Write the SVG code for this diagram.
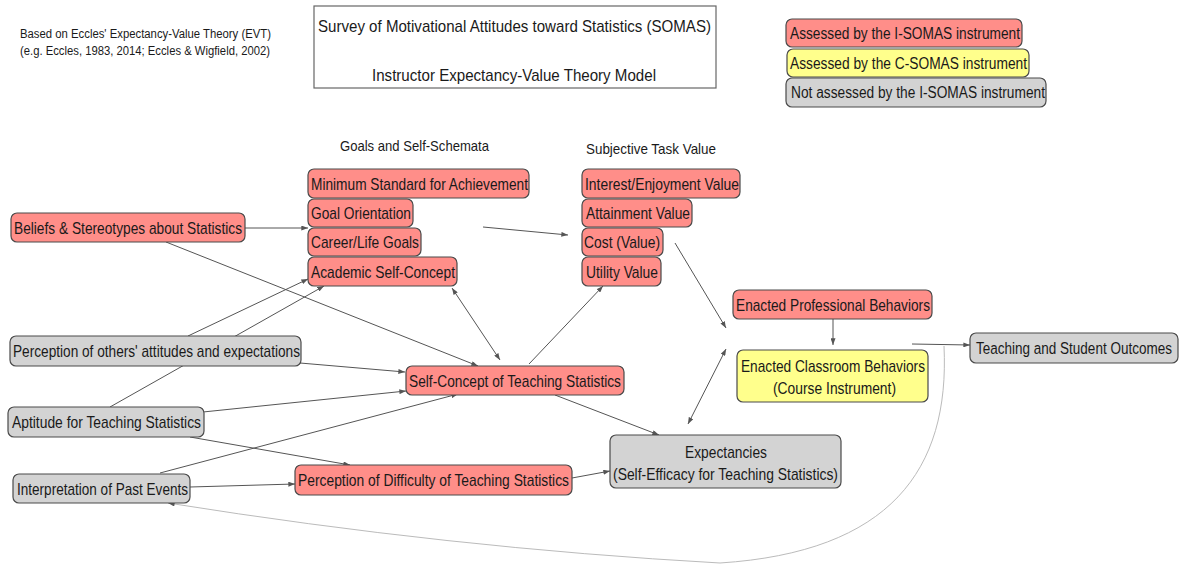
<svg xmlns="http://www.w3.org/2000/svg" width="1184" height="565" viewBox="0 0 1184 565">
<style>
  text { font-family: "Liberation Sans", Arial, sans-serif; fill: #1a1a1a; }
  .n { font-size: 17px; }
  .l { font-size: 16px; }
  .h { font-size: 15px; }
  .s { font-size: 12px; }
  .t { font-size: 17px; }
  .red rect { fill: #ff8e89; stroke: #4a4a4a; stroke-width: 1.2; }
  .yel rect { fill: #ffff8c; stroke: #4a4a4a; stroke-width: 1.2; }
  .gry rect { fill: #d3d3d3; stroke: #4a4a4a; stroke-width: 1.2; }
  .c line, .c path { stroke: #555; stroke-width: 1; fill: none; marker-end: url(#ah); }
  .c .bi { marker-start: url(#ah); }
  .c .faint { stroke: #bbb; }
</style>
<defs>
  <marker id="ah" viewBox="0 0 8 6" refX="8" refY="3" markerWidth="7" markerHeight="5" markerUnits="userSpaceOnUse" orient="auto-start-reverse">
    <path d="M0,0 L8,3 L0,6 z" fill="#555"/>
  </marker>
</defs>
<rect width="1184" height="565" fill="#fff"/>

<g id="source-note">
  <text class="s" x="20" y="38" textLength="251" lengthAdjust="spacingAndGlyphs">Based on Eccles' Expectancy-Value Theory (EVT)</text>
  <text class="s" x="20" y="55" textLength="250" lengthAdjust="spacingAndGlyphs">(e.g. Eccles, 1983, 2014; Eccles &amp; Wigfield, 2002)</text>
</g>

<g id="title">
  <rect x="314" y="6" width="402" height="82" fill="#fff" stroke="#666" stroke-width="1.2"/>
  <text class="t" x="318" y="32" textLength="393" lengthAdjust="spacingAndGlyphs">Survey of Motivational Attitudes toward Statistics (SOMAS)</text>
  <text class="t" x="372" y="81" textLength="284" lengthAdjust="spacingAndGlyphs">Instructor Expectancy-Value Theory Model</text>
</g>

<g id="legend">
  <g id="legend-isomas" class="red"><rect x="786" y="19" width="236" height="28" rx="6"/>
    <text class="l" x="790" y="39" textLength="230" lengthAdjust="spacingAndGlyphs">Assessed by the I-SOMAS instrument</text></g>
  <g id="legend-csomas" class="yel"><rect x="787" y="49" width="242" height="28" rx="6"/>
    <text class="l" x="790" y="69" textLength="237" lengthAdjust="spacingAndGlyphs">Assessed by the C-SOMAS instrument</text></g>
  <g id="legend-not" class="gry"><rect x="786" y="78" width="260" height="29" rx="6"/>
    <text class="l" x="791" y="98" textLength="254" lengthAdjust="spacingAndGlyphs">Not assessed by the I-SOMAS instrument</text></g>
</g>

<g id="section-labels">
  <text class="h" x="340" y="151" textLength="149" lengthAdjust="spacingAndGlyphs">Goals and Self-Schemata</text>
  <text class="h" x="586" y="154" textLength="130" lengthAdjust="spacingAndGlyphs">Subjective Task Value</text>
</g>

<g id="connectors" class="c">
  <line x1="245" y1="228" x2="308" y2="228"/>
  <line x1="166" y1="242" x2="478" y2="366"/>
  <line x1="483" y1="227" x2="568" y2="235"/>
  <line x1="188" y1="336" x2="308" y2="279"/>
  <line x1="110" y1="407" x2="324" y2="286"/>
  <line x1="300" y1="363" x2="405" y2="372"/>
  <line x1="203" y1="412" x2="406" y2="391"/>
  <line x1="160" y1="473" x2="458" y2="394"/>
  <line x1="190" y1="437" x2="350" y2="465"/>
  <line x1="190" y1="487" x2="295" y2="484"/>
  <line x1="572" y1="478" x2="610" y2="471"/>
  <line class="bi" x1="452" y1="288" x2="500" y2="360"/>
  <line x1="529" y1="364" x2="603" y2="286"/>
  <line x1="555" y1="395" x2="659" y2="435"/>
  <line x1="675" y1="243" x2="726" y2="328"/>
  <line class="bi" x1="726" y1="349" x2="688" y2="424"/>
  <line x1="833" y1="319" x2="833" y2="345"/>
  <line x1="912" y1="344" x2="970" y2="345"/>
  <path class="faint" d="M944,346 C950,470 890,552 720,563 Q450,548 168,503"/>
</g>

<g id="beliefs" class="red"><rect x="11" y="213" width="234" height="29" rx="6"/>
  <text class="n" x="14" y="234" textLength="228" lengthAdjust="spacingAndGlyphs">Beliefs &amp; Stereotypes about Statistics</text></g>

<g id="min-standard" class="red"><rect x="308" y="169" width="221" height="29" rx="6"/>
  <text class="n" x="311" y="190" textLength="217" lengthAdjust="spacingAndGlyphs">Minimum Standard for Achievement</text></g>
<g id="goal-orientation" class="red"><rect x="308" y="199" width="105" height="28" rx="6"/>
  <text class="n" x="311" y="219" textLength="100" lengthAdjust="spacingAndGlyphs">Goal Orientation</text></g>
<g id="career-goals" class="red"><rect x="308" y="228" width="113" height="28" rx="6"/>
  <text class="n" x="311" y="248" textLength="108" lengthAdjust="spacingAndGlyphs">Career/Life Goals</text></g>
<g id="academic-self-concept" class="red"><rect x="308" y="257" width="149" height="29" rx="6"/>
  <text class="n" x="311" y="278" textLength="144" lengthAdjust="spacingAndGlyphs">Academic Self-Concept</text></g>

<g id="interest-value" class="red"><rect x="582" y="169" width="158" height="29" rx="6"/>
  <text class="n" x="585" y="190" textLength="154" lengthAdjust="spacingAndGlyphs">Interest/Enjoyment Value</text></g>
<g id="attainment-value" class="red"><rect x="582" y="199" width="110" height="28" rx="6"/>
  <text class="n" x="586" y="219" textLength="104" lengthAdjust="spacingAndGlyphs">Attainment Value</text></g>
<g id="cost-value" class="red"><rect x="582" y="228" width="81" height="28" rx="6"/>
  <text class="n" x="584" y="248" textLength="76" lengthAdjust="spacingAndGlyphs">Cost (Value)</text></g>
<g id="utility-value" class="red"><rect x="582" y="257" width="79" height="29" rx="6"/>
  <text class="n" x="586" y="278" textLength="72" lengthAdjust="spacingAndGlyphs">Utility Value</text></g>

<g id="perception-others" class="gry"><rect x="10" y="336" width="291" height="30" rx="6"/>
  <text class="n" x="13" y="357" textLength="287" lengthAdjust="spacingAndGlyphs">Perception of others' attitudes and expectations</text></g>

<g id="self-concept-teaching" class="red"><rect x="406" y="366" width="218" height="29" rx="6"/>
  <text class="n" x="409" y="387" textLength="212" lengthAdjust="spacingAndGlyphs">Self-Concept of Teaching Statistics</text></g>

<g id="aptitude" class="gry"><rect x="8" y="407" width="196" height="30" rx="6"/>
  <text class="n" x="12" y="428" textLength="189" lengthAdjust="spacingAndGlyphs">Aptitude for Teaching Statistics</text></g>

<g id="interpretation" class="gry"><rect x="13" y="474" width="177" height="29" rx="6"/>
  <text class="n" x="17" y="495" textLength="171" lengthAdjust="spacingAndGlyphs">Interpretation of Past Events</text></g>

<g id="perception-difficulty" class="red"><rect x="295" y="465" width="277" height="30" rx="6"/>
  <text class="n" x="298" y="486" textLength="271" lengthAdjust="spacingAndGlyphs">Perception of Difficulty of Teaching Statistics</text></g>

<g id="expectancies" class="gry"><rect x="610" y="435" width="231" height="53" rx="6"/>
  <text class="n" x="685" y="458" textLength="82" lengthAdjust="spacingAndGlyphs">Expectancies</text>
  <text class="n" x="613" y="480" textLength="225" lengthAdjust="spacingAndGlyphs">(Self-Efficacy for Teaching Statistics)</text></g>

<g id="enacted-professional" class="red"><rect x="733" y="290" width="199" height="29" rx="6"/>
  <text class="n" x="736" y="311" textLength="194" lengthAdjust="spacingAndGlyphs">Enacted Professional Behaviors</text></g>

<g id="enacted-classroom" class="yel"><rect x="737" y="350" width="191" height="52" rx="6"/>
  <text class="n" x="741" y="372" textLength="184" lengthAdjust="spacingAndGlyphs">Enacted Classroom Behaviors</text>
  <text class="n" x="773" y="394" textLength="123" lengthAdjust="spacingAndGlyphs">(Course Instrument)</text></g>

<g id="outcomes" class="gry"><rect x="970" y="333" width="208" height="30" rx="6"/>
  <text class="n" transform="translate(976,354) scale(0.795,1)" x="0" y="0">Teaching and Student Outcomes</text></g>
</svg>
